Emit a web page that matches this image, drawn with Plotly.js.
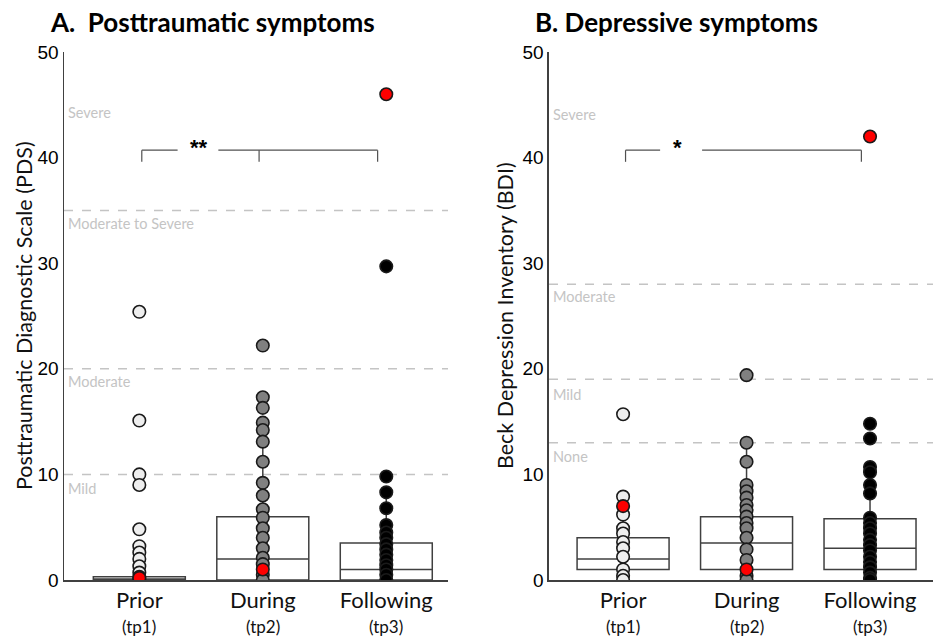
<!DOCTYPE html>
<html>
<head>
<meta charset="utf-8">
<script src="https://cdn.plot.ly/plotly-3.0.1.min.js"></script>
<style>html,body{margin:0;padding:0;background:#fff;}#chart{width:933px;height:637px;}</style>
</head>
<body>
<div id="chart"></div>
<script>
// ---- Data ----
const categories = ['Prior', 'During', 'Following'];
const timepoints = ['(tp1)', '(tp2)', '(tp3)'];

// Panel A: PDS
const pdsPrior = [25.4, 15.1, 10.0, 9.0, 4.8, 3.2, 2.6, 2.0, 1.3, 0.7, 0.3, 0];
const pdsDuring = [22.2, 17.3, 16.3, 14.9, 14.2, 13.1, 11.2, 9.2, 8.0, 6.7, 5.9, 4.9, 4.0, 3.0, 2.1, 1.5, 0.5, 0];
const pdsFollowing = [29.7, 9.8, 8.3, 6.8, 5.2, 4.5, 4.0, 3.4, 2.9, 2.4, 1.9, 1.4, 1.0, 0.5, 0];
const pdsRed = [0.2, 1.0, 46.0];
const pdsQ1 = [0, 0, 0];
const pdsMedian = [0, 2.0, 1.0];
const pdsQ3 = [0.3, 6.0, 3.5];
const pdsLower = [0, 0, 0];
const pdsUpper = [0.3, 15.0, 8.3];
const pdsCutoffs = [10, 20, 35];
const pdsLevelLabels = ['Mild', 'Moderate', 'Moderate to Severe', 'Severe'];
const pdsLevelPos = [8.7, 18.8, 33.8, 44.3];

// Panel B: BDI
const bdiPrior = [15.7, 7.9, 6.2, 4.9, 4.4, 3.6, 3.0, 2.2, 1.0, 0.4, 0];
const bdiDuring = [19.4, 13.0, 11.2, 9.0, 8.4, 7.8, 7.1, 6.6, 6.0, 5.4, 4.9, 4.0, 2.9, 1.9, 0.4, 0];
const bdiFollowing = [14.8, 13.4, 10.7, 10.2, 9.0, 8.2, 5.9, 5.4, 4.9, 4.4, 3.8, 3.3, 2.8, 2.2, 1.7, 1.2, 0.7, 0.2, 0];
const bdiRed = [7.0, 1.0, 42.0];
const bdiQ1 = [1, 1, 1];
const bdiMedian = [2.0, 3.5, 3.0];
const bdiQ3 = [4.0, 6.0, 5.8];
const bdiLower = [0, 0, 0];
const bdiUpper = [7.9, 13.0, 10.7];
const bdiCutoffs = [13, 19, 28];
const bdiLevelLabels = ['None', 'Mild', 'Moderate', 'Severe'];
const bdiLevelPos = [11.7, 17.6, 26.8, 44.1];

const yTicks = [0, 10, 20, 30, 40, 50];

// ---- Styles ----
const fills = ['#eeeeee', '#808080', '#000000'];
const axisColor = '#404040';
const levelColor = '#c4c4c4';
const txtFont = 'Lato, "Open Sans", sans-serif';
const boxWidth = 0.745;

const traces = [];
const shapes = [];
const annotations = [];

function addPanel(xa, ya, groups, red, q1, med, q3, lo, hi) {
  traces.push({
    type: 'box', xaxis: xa, yaxis: ya,
    x: [0, 1, 2], q1: q1, median: med, q3: q3, lowerfence: lo, upperfence: hi,
    width: boxWidth, whiskerwidth: 0,
    fillcolor: '#ffffff', line: {color: axisColor, width: 1.5},
    boxpoints: false, showlegend: false, hoverinfo: 'skip'
  });
  // thicker median lines
  med.forEach((m, i) => shapes.push({
    type: 'line', xref: xa, yref: ya, x0: i - boxWidth / 2, x1: i + boxWidth / 2, y0: m, y1: m,
    line: {color: axisColor, width: 2.5}, layer: 'below'
  }));
  groups.forEach((vals, i) => {
    traces.push({
      type: 'scatter', mode: 'markers', xaxis: xa, yaxis: ya,
      x: vals.map(() => i), y: vals,
      marker: {size: 12.5, color: fills[i], line: {color: '#1a1a1a', width: 1.6}},
      showlegend: false, hoverinfo: 'skip'
    });
  });
  traces.push({
    type: 'scatter', mode: 'markers', xaxis: xa, yaxis: ya,
    x: red.map((v, i) => i), y: red,
    marker: {size: 12.5, color: '#ff0000', line: {color: '#1a1a1a', width: 1.6}},
    showlegend: false, hoverinfo: 'skip'
  });
  // timepoint sub-labels below category tick labels
  timepoints.forEach((t, i) => annotations.push({
    xref: xa, yref: 'paper', x: i, y: -0.089, xanchor: 'center', yanchor: 'middle',
    text: t, showarrow: false, font: {family: txtFont, size: 17, color: '#111'}
  }));
}
addPanel('x', 'y', [pdsPrior, pdsDuring, pdsFollowing], pdsRed, pdsQ1, pdsMedian, pdsQ3, pdsLower, pdsUpper);
addPanel('x2', 'y2', [bdiPrior, bdiDuring, bdiFollowing], bdiRed, bdiQ1, bdiMedian, bdiQ3, bdiLower, bdiUpper);

function xAxis(domain, range) {
  return {
    domain: domain, range: range, showline: true, linecolor: axisColor, linewidth: 1.5,
    showgrid: false, zeroline: false, ticks: '', tickmode: 'array', tickvals: [0, 1, 2], ticktext: categories,
    tickfont: {family: txtFont, size: 22, color: '#111'}, fixedrange: true
  };
}
function yAxis(anchor) {
  return {
    anchor: anchor, range: [0, 50], showline: true, linecolor: axisColor, linewidth: 1.5,
    showgrid: false, zeroline: false, ticks: '', tickmode: 'array', tickvals: yTicks,
    tickfont: {family: '"Liberation Sans", Arial, sans-serif', size: 19, color: '#000'}
  };
}

// Y axis titles
annotations.push({xref: 'paper', yref: 'paper', x: -0.046, y: 0.5, xanchor: 'center', yanchor: 'middle', textangle: -90,
  text: 'Posttraumatic Diagnostic Scale (PDS)', showarrow: false, font: {family: txtFont, size: 21.5, color: '#111'}});
annotations.push({xref: 'paper', yref: 'paper', x: 0.5075, y: 0.5, xanchor: 'center', yanchor: 'middle', textangle: -90,
  text: 'Beck Depression Inventory (BDI)', showarrow: false, font: {family: txtFont, size: 21.5, color: '#111'}});

function cutoffs(xa, ya, cuts, labels, pos) {
  cuts.forEach(c => shapes.push({
    type: 'line', xref: xa + ' domain', yref: ya, x0: 0, x1: 1, y0: c, y1: c,
    line: {color: levelColor, width: 1.5, dash: 'dash'}, layer: 'below'
  }));
  labels.forEach((t, i) => annotations.push({
    xref: xa + ' domain', yref: ya, x: 0.006, y: pos[i], xanchor: 'left', yanchor: 'middle',
    text: t, showarrow: false, font: {family: txtFont, size: 14.5, color: levelColor}
  }));
}
cutoffs('x', 'y', pdsCutoffs, pdsLevelLabels, pdsLevelPos);
cutoffs('x2', 'y2', bdiCutoffs, bdiLevelLabels, bdiLevelPos);

// Significance brackets
const brColor = '#505050';
function seg(xa, ya, x0, y0, x1, y1) {
  shapes.push({type: 'line', xref: xa, yref: ya, x0: x0, x1: x1, y0: y0, y1: y1, line: {color: brColor, width: 1.2}});
}
const brTop = 40.7, brBot = 39.6;
// A: Prior - During - Following, "**"
seg('x', 'y', 0.02, brTop, 0.31, brTop);
seg('x', 'y', 0.64, brTop, 1.93, brTop);
seg('x', 'y', 0.02, brTop, 0.02, brBot);
seg('x', 'y', 0.97, brTop, 0.97, brBot);
seg('x', 'y', 1.93, brTop, 1.93, brBot);
annotations.push({xref: 'x', yref: 'y', x: 0.48, y: 41.0, text: '<b>**</b>', showarrow: false,
  font: {family: '"Liberation Sans", Arial, sans-serif', size: 22, color: '#000'}});
// B: Prior - Following, "*"
seg('x2', 'y2', 0.02, brTop, 0.30, brTop);
seg('x2', 'y2', 0.64, brTop, 1.93, brTop);
seg('x2', 'y2', 0.02, brTop, 0.02, brBot);
seg('x2', 'y2', 1.93, brTop, 1.93, brBot);
annotations.push({xref: 'x2', yref: 'y2', x: 0.44, y: 41.0, text: '<b>*</b>', showarrow: false,
  font: {family: '"Liberation Sans", Arial, sans-serif', size: 22, color: '#000'}});

// Panel titles
annotations.push({xref: 'paper', yref: 'paper', x: -0.0184, y: 1.0568, xanchor: 'left', yanchor: 'middle',
  text: '<b>A.  Posttraumatic symptoms</b>', showarrow: false, font: {family: txtFont, size: 26, color: '#000'}});
annotations.push({xref: 'paper', yref: 'paper', x: 0.5397, y: 1.0568, xanchor: 'left', yanchor: 'middle',
  text: '<b>B. Depressive symptoms</b>', showarrow: false, font: {family: txtFont, size: 26, color: '#000'}});

const layout = {
  width: 933, height: 637,
  margin: {l: 64, r: 0, t: 52, b: 57},
  paper_bgcolor: '#fff', plot_bgcolor: '#fff',
  xaxis: xAxis([0, 0.4419], [-0.61, 2.5]),
  yaxis: yAxis('x'),
  xaxis2: xAxis([0.5581, 1], [-0.6, 2.51]),
  yaxis2: yAxis('x2'),
  shapes: shapes, annotations: annotations, showlegend: false
};

Plotly.newPlot('chart', traces, layout, {staticPlot: true, displayModeBar: false});
</script>
</body>
</html>
